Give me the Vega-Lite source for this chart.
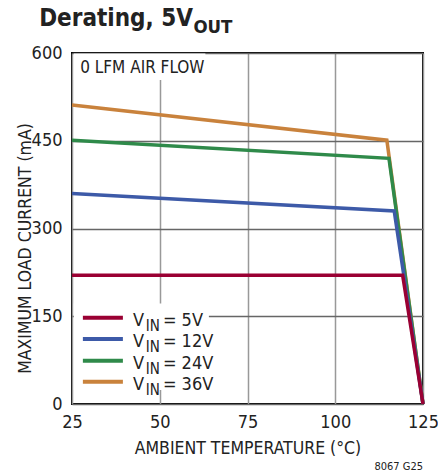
{
  "$schema": "https://vega.github.io/schema/vega-lite/v6.json",
  "autosize": {"type": "none"},
  "width": 351,
  "height": 351,
  "padding": {"left": 72, "top": 53, "right": 15, "bottom": 72},
  "background": "white",
  "config": {
    "font": "DejaVu Sans Condensed",
    "view": {"stroke": "#000", "strokeWidth": 2},
    "text": {"font": "DejaVu Sans Condensed", "fill": "#222", "fontWeight": "normal"}
  },
  "datasets": {
    "curves": [
      {"t": 25, "i": 511, "vin": "36V"},
      {"t": 114.7, "i": 451, "vin": "36V"},
      {"t": 125, "i": 0, "vin": "36V"},
      {"t": 25, "i": 451, "vin": "24V"},
      {"t": 115.3, "i": 420, "vin": "24V"},
      {"t": 125, "i": 0, "vin": "24V"},
      {"t": 25, "i": 360, "vin": "12V"},
      {"t": 116.8, "i": 330, "vin": "12V"},
      {"t": 125, "i": 0, "vin": "12V"},
      {"t": 25, "i": 220, "vin": "5V"},
      {"t": 119.2, "i": 220, "vin": "5V"},
      {"t": 125, "i": 0, "vin": "5V"}
    ],
    "one": [{"n": 1}]
  },
  "data": {"name": "one"},
  "encoding": {
    "x": {
      "type": "quantitative",
      "scale": {"domain": [25, 125], "nice": false, "zero": false},
      "axis": {
        "values": [25, 50, 75, 100, 125],
        "domain": false, "ticks": false, "labelFlush": false,
        "grid": true, "gridColor": "#999", "gridWidth": 1.5,
        "labelFont": "DejaVu Sans Condensed", "labelFontSize": 18, "labelColor": "#222",
        "labelPadding": 9,
        "title": "AMBIENT TEMPERATURE (°C)",
        "titleFont": "DejaVu Sans Condensed", "titleFontSize": 17.5, "titleFontWeight": "normal",
        "titleColor": "#222", "titlePadding": 8
      }
    },
    "y": {
      "type": "quantitative",
      "scale": {"domain": [0, 600], "nice": false},
      "axis": {
        "values": [0, 150, 300, 450, 600],
        "domain": false, "ticks": false, "labelFlush": false,
        "grid": true, "gridColor": "#666", "gridWidth": 1.5,
        "labelFont": "DejaVu Sans Condensed", "labelFontSize": 18, "labelColor": "#222",
        "labelPadding": 10,
        "title": "MAXIMUM LOAD CURRENT (mA)",
        "titleFont": "DejaVu Sans Condensed", "titleFontSize": 17.5, "titleFontWeight": "normal",
        "titleColor": "#222", "titleAngle": 270, "titleAlign": "center", "titleBaseline": "alphabetic",
        "titleX": -42, "titleY": 195
      }
    }
  },
  "layer": [
    {
      "mark": {"type": "rect", "fill": "white", "stroke": null},
      "encoding": {"x": {"datum": 25.5}, "x2": {"datum": 63}, "y": {"datum": 554}, "y2": {"datum": 599.3}}
    },
    {
      "mark": {"type": "rect", "fill": "white", "stroke": null},
      "encoding": {"x": {"datum": 25.5}, "x2": {"datum": 64}, "y": {"datum": 24}, "y2": {"datum": 172}}
    },
    {
      "data": {"name": "curves"},
      "mark": {"type": "line", "strokeWidth": 3.5},
      "encoding": {
        "x": {"field": "t"},
        "y": {"field": "i"},
        "color": {
          "field": "vin", "type": "nominal",
          "scale": {"domain": ["5V", "12V", "24V", "36V"], "range": ["#9a0033", "#3d5aa8", "#2f8a4a", "#c9823c"]},
          "legend": null
        },
        "order": {"field": "t"}
      }
    },
    {
      "mark": {"type": "rule", "strokeWidth": 4, "color": "#9a0033"},
      "encoding": {"x": {"datum": 28.1}, "x2": {"datum": 39.5}, "y": {"datum": 147.5}}
    },
    {
      "mark": {"type": "rule", "strokeWidth": 4, "color": "#3d5aa8"},
      "encoding": {"x": {"datum": 28.1}, "x2": {"datum": 39.5}, "y": {"datum": 111}}
    },
    {
      "mark": {"type": "rule", "strokeWidth": 4, "color": "#2f8a4a"},
      "encoding": {"x": {"datum": 28.1}, "x2": {"datum": 39.5}, "y": {"datum": 74}}
    },
    {
      "mark": {"type": "rule", "strokeWidth": 4, "color": "#c9823c"},
      "encoding": {"x": {"datum": 28.1}, "x2": {"datum": 39.5}, "y": {"datum": 38}}
    },
    {"mark": {"type": "text", "text": "V", "align": "left", "baseline": "alphabetic", "fontSize": 18},
     "encoding": {"x": {"datum": 42.4}, "y": {"datum": 133.3}}},
    {"mark": {"type": "text", "text": "IN", "align": "left", "baseline": "alphabetic", "fontSize": 15, "dy": 5},
     "encoding": {"x": {"datum": 46.0}, "y": {"datum": 133.3}}},
    {"mark": {"type": "text", "text": "= 5V", "align": "left", "baseline": "alphabetic", "fontSize": 18},
     "encoding": {"x": {"datum": 50.9}, "y": {"datum": 133.3}}},
    {"mark": {"type": "text", "text": "V", "align": "left", "baseline": "alphabetic", "fontSize": 18},
     "encoding": {"x": {"datum": 42.4}, "y": {"datum": 96.9}}},
    {"mark": {"type": "text", "text": "IN", "align": "left", "baseline": "alphabetic", "fontSize": 15, "dy": 5},
     "encoding": {"x": {"datum": 46.0}, "y": {"datum": 96.9}}},
    {"mark": {"type": "text", "text": "= 12V", "align": "left", "baseline": "alphabetic", "fontSize": 18},
     "encoding": {"x": {"datum": 50.9}, "y": {"datum": 96.9}}},
    {"mark": {"type": "text", "text": "V", "align": "left", "baseline": "alphabetic", "fontSize": 18},
     "encoding": {"x": {"datum": 42.4}, "y": {"datum": 59.8}}},
    {"mark": {"type": "text", "text": "IN", "align": "left", "baseline": "alphabetic", "fontSize": 15, "dy": 5},
     "encoding": {"x": {"datum": 46.0}, "y": {"datum": 59.8}}},
    {"mark": {"type": "text", "text": "= 24V", "align": "left", "baseline": "alphabetic", "fontSize": 18},
     "encoding": {"x": {"datum": 50.9}, "y": {"datum": 59.8}}},
    {"mark": {"type": "text", "text": "V", "align": "left", "baseline": "alphabetic", "fontSize": 18},
     "encoding": {"x": {"datum": 42.4}, "y": {"datum": 23.9}}},
    {"mark": {"type": "text", "text": "IN", "align": "left", "baseline": "alphabetic", "fontSize": 15, "dy": 5},
     "encoding": {"x": {"datum": 46.0}, "y": {"datum": 23.9}}},
    {"mark": {"type": "text", "text": "= 36V", "align": "left", "baseline": "alphabetic", "fontSize": 18},
     "encoding": {"x": {"datum": 50.9}, "y": {"datum": 23.9}}},
    {"mark": {"type": "text", "text": "0 LFM AIR FLOW", "align": "left", "baseline": "alphabetic", "fontSize": 17},
     "encoding": {"x": {"datum": 27.34}, "y": {"datum": 566.3}}},
    {"mark": {"type": "text", "text": "Derating, 5V", "align": "right", "baseline": "alphabetic", "fontSize": 24, "fontWeight": "bold"},
     "encoding": {"x": {"datum": 59.47}, "y": {"datum": 646.2}}},
    {"mark": {"type": "text", "text": "OUT", "align": "left", "baseline": "alphabetic", "fontSize": 18.5, "fontWeight": "bold"},
     "encoding": {"x": {"datum": 59.6}, "y": {"datum": 635}}},
    {"mark": {"type": "text", "text": "8067 G25", "align": "right", "baseline": "alphabetic", "fontSize": 11},
     "encoding": {"x": {"datum": 125}, "y": {"datum": -112.8}}}
  ]
}
